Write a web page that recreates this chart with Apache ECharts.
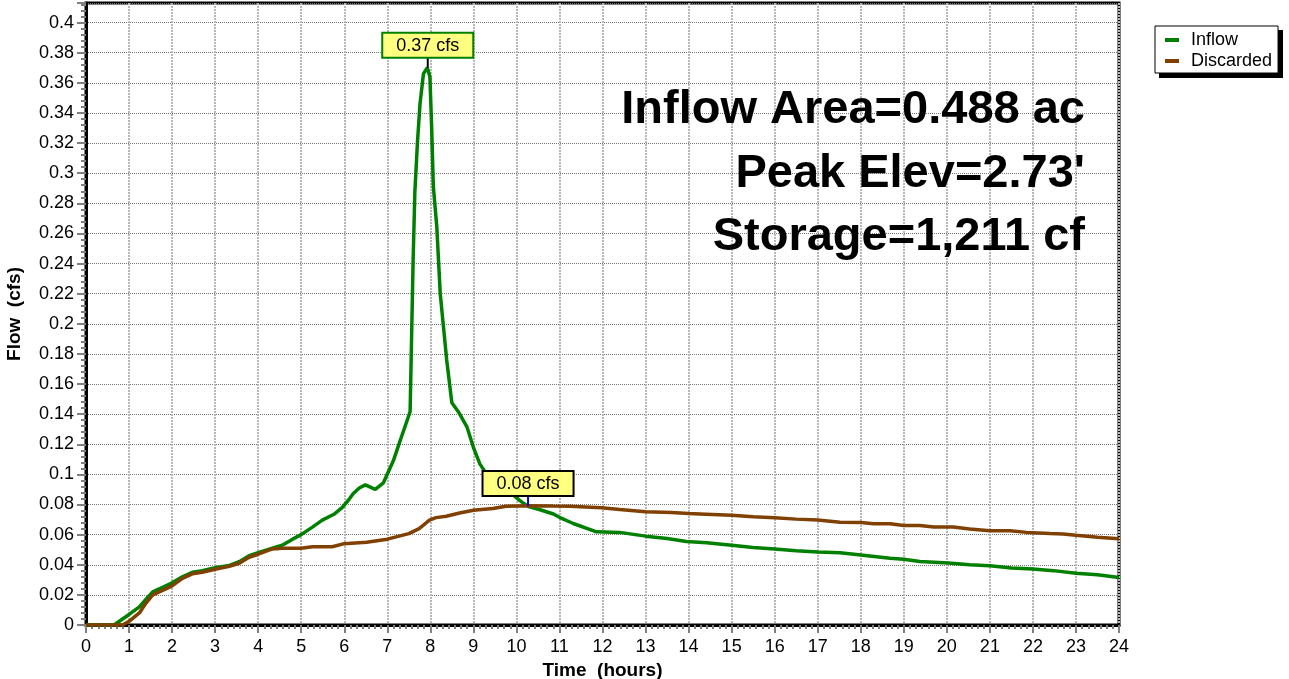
<!DOCTYPE html>
<html>
<head>
<meta charset="utf-8">
<title>Flow</title>
<script src="https://cdn.jsdelivr.net/npm/echarts@6/dist/echarts.min.js"></script>
<style>
    html, body { margin: 0; padding: 0; background: #fff; }
    #flow_chart { width: 1289px; height: 679px; }
</style>
</head>
<body>
<div id="flow_chart"></div>
<script>
// values (hours, cfs)
var inflowHours = [0, 0.65, 1.0, 1.24, 1.39, 1.55, 1.78, 2.0, 2.24, 2.47, 2.7, 3.0, 3.33, 3.56, 3.79, 4.0,
    4.33, 4.56, 4.8, 5.0, 5.26, 5.49, 5.76, 5.95, 6.1, 6.21, 6.35, 6.49, 6.72, 6.91, 7.14, 7.33, 7.53,
    7.6, 7.64, 7.7, 7.76, 7.84, 7.93, 7.99, 8.03, 8.07, 8.15, 8.23, 8.38, 8.5, 8.65, 8.85, 9.0, 9.15,
    9.31, 9.54, 9.85, 10.08, 10.28, 10.55, 10.86, 11.0, 11.32, 11.86, 12.4, 13.0, 13.5, 13.95, 14.42,
    15.0, 15.5, 16.0, 16.5, 17.0, 17.52, 18.0, 18.68, 19.0, 19.37, 20.03, 20.53, 21.0, 21.5, 22.0,
    22.48, 23.0, 23.5, 24.0];
var inflowCfs = [0, 0, 0.007, 0.012, 0.017, 0.022, 0.025, 0.028, 0.032, 0.035, 0.036, 0.038, 0.0396, 0.042, 0.046, 0.048,
    0.051, 0.053, 0.057, 0.060, 0.065, 0.0696, 0.0735, 0.078, 0.083, 0.0873, 0.091, 0.093, 0.090, 0.0944, 0.109, 0.125, 0.1416,
    0.242, 0.287, 0.32, 0.346, 0.366, 0.37, 0.364, 0.331, 0.291, 0.2645, 0.22, 0.176, 0.1476, 0.1416, 0.1316, 0.118, 0.107,
    0.100, 0.0937, 0.0882, 0.0826, 0.0786, 0.0765, 0.0737, 0.0715, 0.0674, 0.0619, 0.0615, 0.059, 0.0575, 0.0555, 0.0546,
    0.053, 0.0515, 0.0504, 0.0493, 0.0485, 0.048, 0.0465, 0.0443, 0.0437, 0.0422, 0.0411, 0.040, 0.0393, 0.0378, 0.0372,
    0.0361, 0.0343, 0.0333, 0.0315];

var discardedHours = [0, 0.85, 1.0, 1.24, 1.39, 1.55, 1.78, 2.0, 2.24, 2.47, 2.7, 3.0, 3.33, 3.56, 3.79, 4.0,
    4.33, 4.56, 5.0, 5.26, 5.72, 6.0, 6.52, 7.0, 7.5, 7.74, 7.98, 8.13, 8.37, 8.68, 9.0, 9.45, 9.76,
    10.27, 10.85, 11.24, 11.98, 12.4, 13.0, 13.6, 14.0, 14.4, 15.0, 15.5, 16.0, 16.5, 17.0, 17.52,
    18.0, 18.3, 18.68, 19.0, 19.37, 19.7, 20.15, 20.53, 21.0, 21.47, 21.85, 22.4, 22.7, 23.0, 23.5, 24.0];
var discardedCfs = [0, 0, 0.0024, 0.008, 0.0144, 0.020, 0.023, 0.026, 0.031, 0.034, 0.035, 0.037, 0.039, 0.041, 0.045, 0.047,
    0.0505, 0.051, 0.051, 0.052, 0.052, 0.054, 0.055, 0.057, 0.0607, 0.064, 0.0696, 0.0713, 0.0722, 0.0744, 0.0762, 0.0773, 0.0789,
    0.0792, 0.079, 0.0789, 0.0778, 0.0767, 0.0752, 0.0747, 0.074, 0.0736, 0.0729, 0.0718, 0.0712, 0.0703, 0.0697, 0.0683,
    0.068, 0.0672, 0.0672, 0.0661, 0.066, 0.065, 0.065, 0.0637, 0.0626, 0.0626, 0.0615, 0.0607, 0.0604, 0.0596, 0.0583, 0.0572];

var seriesNames = ['Inflow', 'Discarded'];
var peakLabels = ['0.37 cfs', '0.08 cfs'];
var inflowPeak = [7.94, 0.37];
var discardedPeak = [10.27, 0.079];
var infoLines = ['Inflow Area=0.488 ac', "Peak Elev=2.73'", 'Storage=1,211 cf'];

var FONT = "'Liberation Sans', Arial, sans-serif";

function pairs(xs, ys) {
    var out = [];
    for (var i = 0; i < xs.length; i++) {
        out.push([xs[i], ys[i]]);
    }
    return out;
}

function peakMark(coord, text, lineColor, boxBorder) {
    return {
        silent: true,
        symbol: 'rect',
        symbolSize: [2, 11],
        symbolOffset: [0, -5.5],
        itemStyle: { color: lineColor },
        label: {
            show: true,
            position: 'top',
            distance: 0,
            formatter: text,
            fontFamily: FONT,
            fontSize: 18,
            color: '#000',
            backgroundColor: '#ffff80',
            borderColor: boxBorder,
            borderWidth: 2,
            padding: [3, 13, 2, 13]
        },
        data: [{ coord: coord }]
    };
}

var myChart = echarts.init(document.getElementById('flow_chart'));

var graphics = infoLines.map(function (t, i) {
    return {
        type: 'text',
        right: 1289 - 1085,
        top: 87 + i * 63.5,
        z: 100,
        style: {
            text: t,
            font: 'bold 47px ' + FONT,
            fill: '#000',
            textAlign: 'right'
        }
    };
});
// legend drop shadow
graphics.push({
    type: 'rect',
    left: 1159,
    top: 30,
    z: 0,
    shape: { width: 124, height: 48 },
    style: { fill: '#000' }
});

var option = {
    animation: false,
    backgroundColor: '#fff',
    textStyle: { fontFamily: FONT },
    grid: {
        left: 86,
        right: 170,
        top: 3,
        bottom: 54,
        outerBoundsMode: 'none',
        containLabel: false,
        show: true,
        borderColor: '#000',
        borderWidth: 3
    },
    legend: {
        data: seriesNames,
        orient: 'vertical',
        left: 1155,
        top: 26,
        z: 10,
        icon: 'rect',
        itemWidth: 14,
        itemHeight: 4,
        itemGap: 3,
        padding: [5, 6, 3, 10],
        backgroundColor: '#fff',
        borderColor: '#000',
        borderWidth: 1,
        textStyle: {
            fontFamily: FONT,
            fontSize: 18,
            lineHeight: 18,
            color: '#000',
            padding: [0, 0, 0, 7]
        }
    },
    xAxis: {
        type: 'value',
        min: 0,
        max: 24,
        interval: 1,
        name: 'Time  (hours)',
        nameLocation: 'middle',
        nameGap: 33,
        nameTextStyle: { fontFamily: FONT, fontSize: 19, fontWeight: 'bold', color: '#000' },
        axisLine: { show: true, onZero: false, lineStyle: { color: '#000', width: 3 } },
        axisTick: { show: true, length: 8, lineStyle: { color: '#808080', width: 2 } },
        minorTick: { show: true, splitNumber: 7, length: 4, lineStyle: { color: '#808080', width: 2 } },
        axisLabel: { fontFamily: FONT, fontSize: 18, color: '#000', margin: 13 },
        splitLine: { show: true, lineStyle: { color: '#b8b8b8', width: 2, type: [2, 1] } }
    },
    yAxis: {
        type: 'value',
        min: 0,
        max: 0.413,
        interval: 0.02,
        name: 'Flow  (cfs)',
        nameLocation: 'middle',
        nameGap: 62,
        nameTextStyle: { fontFamily: FONT, fontSize: 19, fontWeight: 'bold', color: '#000' },
        axisLine: { show: true, onZero: false, lineStyle: { color: '#000', width: 3 } },
        axisTick: { show: true, length: 9, lineStyle: { color: '#808080', width: 2 } },
        minorTick: { show: true, splitNumber: 5, length: 5, lineStyle: { color: '#808080', width: 2 } },
        axisLabel: { fontFamily: FONT, fontSize: 18, color: '#000', margin: 12, showMaxLabel: false },
        splitLine: { show: true, lineStyle: { color: '#777', width: 1, type: [1, 1] } }
    },
    graphic: graphics,
    series: [
        {
            name: seriesNames[0],
            type: 'line',
            showSymbol: false,
            symbol: 'none',
            lineStyle: { color: '#008000', width: 3.5 },
            itemStyle: { color: '#008000' },
            data: pairs(inflowHours, inflowCfs),
            markPoint: peakMark(inflowPeak, peakLabels[0], '#000', '#008000'),
            z: 3
        },
        {
            name: seriesNames[1],
            type: 'line',
            showSymbol: false,
            symbol: 'none',
            lineStyle: { color: '#804000', width: 3.5 },
            itemStyle: { color: '#804000' },
            data: pairs(discardedHours, discardedCfs),
            markPoint: peakMark(discardedPeak, peakLabels[1], '#0000ff', '#000'),
            z: 4
        }
    ]
};

myChart.setOption(option);
</script>
</body>
</html>
